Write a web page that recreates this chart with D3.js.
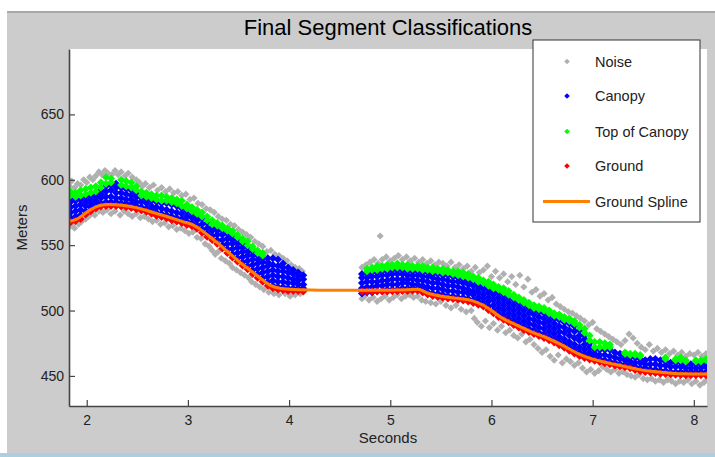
<!DOCTYPE html>
<html><head><meta charset="utf-8">
<script src="https://cdn.jsdelivr.net/npm/d3@7"></script>
<style>html,body{margin:0;padding:0;background:#fff;} svg{display:block;font-family:"Liberation Sans",Arial,sans-serif;}</style>
</head><body><svg id="c" width="715" height="457"></svg>
<script>
const xTicks=[2,3,4,5,6,7,8];
const yTicks=[450,500,550,600,650];
const legendLabels=["Noise","Canopy","Top of Canopy","Ground","Ground Spline"];

const splineX=[1.825,1.9,1.97,2.04,2.12,2.22,2.35,2.5,2.65,2.8,2.95,3.05,3.15,3.28,3.4,3.52,3.62,3.72,3.82,3.92,4.05,4.3,4.6,4.9,5.1,5.27,5.38,5.5,5.65,5.8,5.92,6.0,6.1,6.25,6.4,6.55,6.7,6.85,7.0,7.15,7.3,7.45,7.6,7.75,7.9,8.05,8.13];
const splineY=[568.3,569.8,573.5,577.2,580.2,581,580.5,578.5,575.2,571.7,568,565.5,560.5,552.5,544.5,536.5,530.5,524.5,519,516.8,516,515.6,515.5,515.5,515.8,516.2,513,511,509.5,507.8,504,500,494.5,488.8,483.5,479,473.5,467.3,462.8,460,457.5,455,453.3,452.3,451.6,451.5,451.5];

const ground=[[1.84,567.5],[1.89,568.5],[1.94,570],[1.99,573.5],[2.04,576],[2.09,578],[2.14,579.5],[2.19,580],[2.24,580],[2.29,580],[2.34,579.5],[2.39,579],[2.44,578.5],[2.49,577.5],[2.54,576.5],[2.59,575.5],[2.64,574],[2.69,572.5],[2.74,571.5],[2.79,570.5],[2.84,569],[2.89,568],[2.94,567],[2.99,565.5],[3.04,564.5],[3.09,562.5],[3.14,559.5],[3.19,556.5],[3.24,554],[3.29,551],[3.34,547.5],[3.39,544],[3.44,540.5],[3.49,537.5],[3.54,534.5],[3.59,531.5],[3.64,528],[3.69,525],[3.74,522],[3.79,519],[3.84,517],[3.89,516],[3.94,515.5],[3.99,515],[4.04,515],[4.09,515],[4.14,514.5],
[4.72,514.5],[4.77,514.5],[4.82,514.5],[4.87,514.5],[4.92,514.5],[4.97,514.6],[5.02,514.7],[5.07,514.8],[5.12,514.9],[5.17,515],[5.22,515.1],[5.27,515.2],[5.32,513.8],[5.37,512.2],[5.42,511.2],[5.47,510.4],[5.52,509.7],[5.57,509.2],[5.62,508.8],[5.67,508.3],[5.72,507.7],[5.77,507],[5.82,505.8],[5.87,504.5],[5.92,503],[5.97,500.5],[6.02,498],[6.07,495],[6.12,493],[6.17,491],[6.22,489],[6.27,487],[6.32,485.2],[6.37,483.5],[6.42,482],[6.47,480.5],[6.52,479],[6.57,477.2],[6.62,475.5],[6.67,473.5],[6.72,471.5],[6.77,469.3],[6.82,467.2],[6.87,465.3],[6.92,463.8],[6.97,462.5],[7.02,461.6],[7.07,460.6],[7.12,459.7],[7.17,458.9],[7.22,458],[7.27,457.3],[7.32,456.6],[7.37,455.8],[7.42,454.6],[7.47,453.8],[7.52,453],[7.57,452.7],[7.62,452.2],[7.67,451.7],[7.72,451.4],[7.77,451.1],[7.82,450.9],[7.87,450.7],[7.92,450.6],[7.97,450.5],[8.02,450.5],[8.07,450.5],[8.12,450.5]];

const canopy=[[1.84,571,575,579,583,586],[1.89,572,576,580,584],[1.94,573,577,581,585],[1.99,576,580,583,587],[2.04,579,582,585,588],[2.09,581,584,587,590],[2.14,582,586,589,592],[2.19,583,587,591,595],[2.24,583,587,592,596],[2.29,583,586,590,594,597],[2.34,582,586,590,594],[2.39,582,585,589,593],[2.44,581,585,588,592],[2.49,580,583,587,590],[2.54,579,583,586],[2.59,578,582,585],[2.64,577,580,584],[2.69,575,579,583],[2.74,574,578,582],[2.79,573,577,582],[2.84,572,576,581],[2.89,571,575,580],[2.94,570,574,578],[2.99,568,572,576],[3.04,567,571,574],[3.09,565,569,572],[3.14,562,566,570],[3.19,559,563,567],[3.24,557,561,564],[3.29,554,558,561,563],[3.34,550,554,558,561],[3.39,547,551,555,559],[3.44,543,547,551,554,557],[3.49,540,544,548,551,554],[3.54,537,541,545,548,551],[3.59,534,538,542,545,548],[3.64,531,535,539,542,545],[3.69,528,532,536,539,542],[3.74,525,529,533,537,540],[3.79,522,526,530,534,537,540],[3.84,519,523,527,531,535,540],[3.89,518,522,526,530,534,539],[3.94,518,522,526,530,533,536],[3.99,517,521,525,529,533],[4.04,517,521,524,528,531],[4.09,517,520,523,526,529],[4.14,517,520,524,527],
[4.72,513,517,521,525,528],[4.77,514,518,522,525,528],[4.82,514,518,522,526,529],[4.87,515,519,522,526,529],[4.92,515,519,523,527,530],[4.97,516,520,523,527,530],[5.02,516,520,524,528,531],[5.07,516,520,524,528,531],[5.12,517,521,524,528,531],[5.17,517,521,524,527,530],[5.22,517,520,524,527,530],[5.27,517,520,523,527,530],[5.32,516,519,523,526,529],[5.37,514,518,522,526,529],[5.42,513,517,521,525,528],[5.47,513,517,521,524,528],[5.52,512,516,520,524,527],[5.57,511,515,519,523,527],[5.62,511,515,519,522,526],[5.67,510,514,518,522,525],[5.72,510,514,517,521,524],[5.77,509,513,516,520,523],[5.82,508,512,515,519,522],[5.87,507,510,514,517,520],[5.92,505,509,512,516,519],[5.97,503,507,510,514,517],[6.02,500,504,508,512,515],[6.07,498,502,506,510,514],[6.12,496,500,504,508,512],[6.17,494,498,502,506,510],[6.22,492,496,500,504,508],[6.27,490,494,498,502,506],[6.32,488,492,496,500,504],[6.37,486,490,494,498,502],[6.42,485,489,493,497,500],[6.47,483,487,491,495,499],[6.52,482,486,490,494,498],[6.57,480,484,488,492,496],[6.62,478,482,486,490,494],[6.67,476,480,484,488,493],[6.72,474,478,483,487,491],[6.77,472,476,481,485,490],[6.82,470,474,479,484,488],[6.87,468,472,477,481,485],[6.92,466,470,474,478,481],[6.97,465,468,472,475],[7.02,464,467,470],[7.07,463,466,470],[7.12,462,466,470],[7.17,461,465,470],[7.22,460,464,468],[7.27,459,463,467],[7.32,459,462,465],[7.37,458,461,464],[7.42,457,460,464],[7.47,456,460,463],[7.52,456,459,462],[7.57,455,459,463],[7.62,455,459,463],[7.67,454,458,462],[7.72,454,458,461],[7.77,453,457,460],[7.82,453,457,460],[7.87,453,457,460],[7.92,453,456,459],[7.97,453,456,459],[8.02,453,456,459],[8.07,453,456,459],[8.12,453,457,460]];

const topCanopy=[[1.84,588,591],[1.89,587,590],[1.94,588,592],[1.99,589,593],[2.04,590,594],[2.09,591,595],[2.14,594,598],[2.19,597,602],[2.24,598,601],[2.34,596,600],[2.39,595,599],[2.44,594,598],[2.49,592,595],[2.54,588,591],[2.59,587,590],[2.64,586,589],[2.69,585,588],[2.74,584,588],[2.79,584,587],[2.84,583,586],[2.89,582,585],[2.94,580,584],[2.99,578,581],[3.04,576,579],[3.09,574,577],[3.14,572,575],[3.19,569,572],[3.24,566,569],[3.29,565,567],[3.34,563,565],[3.39,561,563],[3.44,559,561],[3.49,556,558],[3.54,553,555],[3.59,550,553],[3.64,547,549],[3.69,544,546],[3.74,542,544],
[4.77,530,532],[4.82,531,533],[4.87,531,534],[4.92,532,534],[4.97,532,535],[5.02,533,535],[5.07,533,536],[5.12,533,535],[5.17,532,535],[5.22,532,534],[5.27,532,534],[5.32,531,534],[5.37,531,533],[5.42,530,533],[5.47,530,532],[5.52,529,532],[5.57,529,531],[5.62,528,530],[5.67,527,530],[5.72,526,529],[5.77,525,528],[5.82,524,526],[5.87,522,525],[5.92,521,523],[5.97,519,522],[6.02,517,520],[6.07,516,518],[6.12,514,517],[6.17,512,515],[6.22,510,512],[6.27,508,510],[6.32,506,508],[6.37,504,506],[6.42,502,504],[6.47,501,503],[6.52,500,502],[6.57,498,500],[6.62,496,498],[6.67,495,497],[6.72,493,495],[6.77,492,494],[6.82,490,492],[6.87,487,489],[6.92,483,486],[6.97,477,481],[7.02,472,476],[7.07,472,476],[7.12,472,475],[7.17,472,474],[7.32,467,468],[7.37,466,467],[7.42,466,467],[7.47,465,466],[7.72,463,464],[7.82,462,463],[7.87,462,464],[7.92,461,462],[8.02,461,462],[8.07,461,462],[8.12,462,463]];

const noise=[[1.83,595],[1.85,599],[1.88,594],[1.91,597],[1.94,596],[1.97,600],[2.0,598],[2.03,602],[2.06,600],[2.09,603],[2.12,606],[2.15,604],[2.18,607],[2.21,605],[2.25,604],[2.28,607],[2.31,604],[2.34,606],[2.38,603],[2.41,605],[2.45,602],[2.49,600],[2.52,598],[2.55,595],[2.58,597],[2.62,594],[2.66,596],[2.7,592],[2.74,594],[2.78,591],[2.82,593],[2.86,590],[2.9,591],[2.94,588],[2.98,589],[3.02,585],[3.06,586],[3.1,582],[3.14,581],[3.18,578],[3.22,577],[3.26,575],[3.3,572],[3.34,570],[3.38,569],[3.42,566],[3.46,565],[3.5,562],[3.54,560],[3.58,558],[3.62,556],[3.66,553],[3.7,551],[3.74,549],[3.78,545],[3.82,546],[3.86,543],[3.9,542],[3.94,540],[3.98,538],[4.02,535],[4.06,533],[4.1,532],[4.13,530],
[1.83,564],[1.85,566],[1.88,563],[1.92,566],[1.95,568],[1.99,570],[2.02,572],[2.05,574],[2.08,573],[2.12,576],[2.16,575],[2.2,577],[2.24,574],[2.28,576],[2.33,573],[2.37,576],[2.41,574],[2.45,572],[2.49,574],[2.53,571],[2.57,572],[2.61,570],[2.65,568],[2.69,569],[2.73,566],[2.77,567],[2.81,564],[2.85,565],[2.89,562],[2.93,563],[2.97,561],[3.01,559],[3.05,560],[3.09,556],[3.13,555],[3.17,551],[3.21,549],[3.24,546],[3.27,543],[3.3,545],[3.33,540],[3.37,538],[3.41,536],[3.44,533],[3.48,531],[3.52,529],[3.56,527],[3.6,525],[3.63,522],[3.67,520],[3.71,518],[3.75,516],[3.8,514],[3.85,513],[3.9,512],[3.96,513],[4.01,511],[4.06,512],[4.11,513],
[4.9,557],[4.72,533],[4.76,535],[4.8,537],[4.84,539],[4.88,536],[4.92,539],[4.96,541],[5.0,538],[5.04,540],[5.08,542],[5.12,539],[5.16,541],[5.2,538],[5.24,540],[5.28,537],[5.32,539],[5.36,536],[5.4,538],[5.44,535],[5.48,537],[5.52,536],[5.56,534],[5.6,537],[5.64,533],[5.68,535],[5.72,532],[5.76,534],[5.8,530],[5.84,533],[5.88,529],[5.92,531],[5.96,534],[6.0,526],[6.04,530],[6.08,525],[6.12,528],[6.16,522],[6.2,526],[6.24,520],[6.28,527],[6.32,518],[6.36,524],[6.4,514],[6.44,516],[6.48,511],[6.52,513],[6.56,508],[6.6,510],[6.64,505],[6.68,503],[6.72,501],[6.76,499],[6.8,498],[6.84,496],[6.88,494],[6.92,492],[6.96,489],[7.0,491],[7.04,486],[7.08,484],[7.12,482],[7.16,480],[7.2,478],[7.24,476],[7.28,474],[7.32,477],[7.36,482],[7.4,479],[7.44,475],[7.48,472],[7.52,470],[7.56,474],[7.6,469],[7.64,471],[7.68,468],[7.72,470],[7.76,467],[7.8,469],[7.84,466],[7.88,468],[7.92,465],[7.96,467],[8.0,466],[8.04,468],[8.08,465],[8.12,467],
[4.72,509],[4.75,511],[4.79,508],[4.83,510],[4.87,507],[4.91,509],[4.95,511],[4.99,508],[5.03,510],[5.07,512],[5.11,509],[5.15,511],[5.19,512],[5.23,510],[5.27,511],[5.31,508],[5.35,507],[5.4,506],[5.45,505],[5.5,507],[5.55,504],[5.6,502],[5.65,504],[5.7,501],[5.75,499],[5.8,500],[5.83,494],[5.86,491],[5.9,488],[5.94,492],[5.98,487],[6.02,490],[6.06,485],[6.1,488],[6.14,483],[6.18,485],[6.22,481],[6.26,479],[6.3,482],[6.34,476],[6.38,478],[6.42,474],[6.46,471],[6.5,468],[6.54,470],[6.58,465],[6.62,462],[6.66,466],[6.7,460],[6.74,463],[6.78,461],[6.82,458],[6.86,460],[6.9,456],[6.94,453],[6.98,455],[7.02,452],[7.06,454],[7.1,457],[7.14,455],[7.18,453],[7.22,455],[7.26,452],[7.3,453],[7.34,451],[7.38,450],[7.42,449],[7.46,451],[7.5,448],[7.54,447],[7.58,448],[7.62,446],[7.66,447],[7.7,445],[7.74,447],[7.78,446],[7.82,444],[7.86,446],[7.9,445],[7.94,447],[7.98,444],[8.02,446],[8.06,443],[8.1,445],[8.13,447]];

const colors={noise:"#b0b0b0",canopy:"#0000ff",top:"#00ff00",ground:"#ff0000",spline:"#ff8000"};

const svg=d3.select("#c");
const W=715,H=457;
const m={l:69,r:707,t:49,b:406};
const x=d3.scaleLinear().domain([1.825,8.13]).range([m.l,m.r]);
const y=d3.scaleLinear().domain([427,700]).range([m.b,m.t]);

// figure background
svg.append("rect").attr("width",W).attr("height",H).attr("fill","#cccccc");
svg.append("rect").attr("x",0).attr("y",0).attr("width",W).attr("height",11).attr("fill","#ffffff");
svg.append("rect").attr("x",0).attr("y",0).attr("width",7).attr("height",H).attr("fill","#ffffff");
svg.append("line").attr("x1",7).attr("x2",W).attr("y1",12).attr("y2",12).attr("stroke","#a8a8a8").attr("stroke-width",2);
svg.append("rect").attr("x",0).attr("y",453).attr("width",W).attr("height",4).attr("fill","#a9cfe0");

// plot area
svg.append("rect").attr("x",m.l).attr("y",m.t).attr("width",m.r-m.l).attr("height",m.b-m.t).attr("fill","#ffffff");
svg.append("clipPath").attr("id","clip").append("rect").attr("x",m.l).attr("y",m.t).attr("width",m.r-m.l).attr("height",m.b-m.t);
const g=svg.append("g").attr("clip-path","url(#clip)");

const dia=(r)=>`M0,${-r}L${r},0L0,${r}L${-r},0Z`;
function drawPts(pts,color,r){
  g.append("g").selectAll("path").data(pts).join("path")
   .attr("d",dia(r)).attr("fill",color)
   .attr("transform",d=>`translate(${x(d[0])},${y(d[1])})`);
}
const flatCols=(cols)=>cols.flatMap(c=>c.slice(1).map(v=>[c[0],v]));

drawPts(noise,colors.noise,3.6);
drawPts(flatCols(canopy),colors.canopy,4);
drawPts(flatCols(topCanopy),colors.top,4);
drawPts(ground,colors.ground,4);

const splinePts=splineX.map((v,i)=>[v,splineY[i]]);
g.append("path").datum(splinePts)
 .attr("d",d3.line().x(d=>x(d[0])).y(d=>y(d[1])).curve(d3.curveMonotoneX))
 .attr("fill","none").attr("stroke",colors.spline).attr("stroke-width",3);

// axes
const axisColor="#444";
const xa=svg.append("g").attr("transform",`translate(0,${m.b})`)
  .call(d3.axisBottom(x).tickValues(xTicks).tickFormat(d3.format("d")).tickSizeInner(-6).tickSizeOuter(0).tickPadding(9));
const ya=svg.append("g").attr("transform",`translate(${m.l},0)`)
  .call(d3.axisLeft(y).tickValues(yTicks).tickFormat(d3.format("d")).tickSizeInner(-6).tickSizeOuter(0).tickPadding(5));
[xa,ya].forEach(a=>{
  a.select(".domain").attr("stroke",axisColor).attr("stroke-width",1.6);
  a.selectAll(".tick line").attr("stroke",axisColor).attr("stroke-width",1.2);
  a.selectAll(".tick text").attr("fill","#222").style("font-family","'Liberation Sans',Arial,sans-serif").style("font-size","14px");
});

// title & labels
svg.append("text").attr("x",(m.l+m.r)/2).attr("y",35).attr("text-anchor","middle")
  .style("font-size","22px").attr("fill","#000").text("Final Segment Classifications");
svg.append("text").attr("x",(m.l+m.r)/2).attr("y",443).attr("text-anchor","middle")
  .style("font-size","15px").attr("fill","#222").text("Seconds");
svg.append("text").attr("transform",`translate(27,${(m.t+m.b)/2}) rotate(-90)`).attr("text-anchor","middle")
  .style("font-size","15px").attr("fill","#222").text("Meters");

// legend
const lg=svg.append("g");
lg.append("rect").attr("x",533).attr("y",40).attr("width",167).attr("height",182)
  .attr("fill","#ffffff").attr("stroke","#333").attr("stroke-width",1);
const legColors=[colors.noise,colors.canopy,colors.top,colors.ground];
const legY=[61.5,96,131.5,166,201.5];
legendLabels.forEach((lab,i)=>{
  if(i<4){
    lg.append("path").attr("d",dia(2.8)).attr("fill",legColors[i]).attr("transform",`translate(567,${legY[i]})`);
  } else {
    lg.append("line").attr("x1",543).attr("x2",590).attr("y1",legY[i]).attr("y2",legY[i]).attr("stroke",colors.spline).attr("stroke-width",3);
  }
  lg.append("text").attr("x",595).attr("y",legY[i]).attr("dy","0.35em").style("font-size","14.5px").attr("fill","#222").text(lab);
});
</script></body></html>
